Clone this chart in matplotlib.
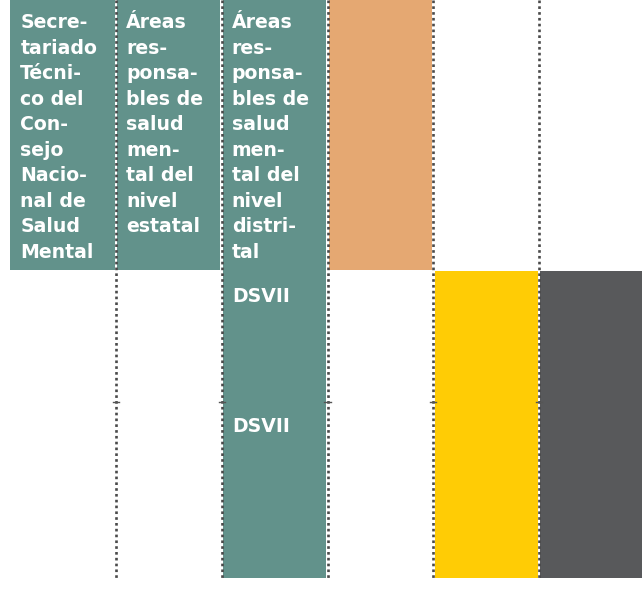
import matplotlib.pyplot as plt

# header texts for the three teal columns, one entry per line
headers = [
    ["Secre-", "tariado", "Técni-", "co del", "Con-", "sejo", "Nacio-", "nal de", "Salud", "Mental"],
    ["Áreas", "res-", "ponsa-", "bles de", "salud", "men-", "tal del", "nivel", "estatal"],
    ["Áreas", "res-", "ponsa-", "bles de", "salud", "men-", "tal del", "nivel", "distri-", "tal"],
]
# filled blocks: (column, top, bottom, colour)
blocks = [
    (0, 0, 270, "#62928b"),
    (1, 0, 270, "#62928b"),
    (2, 0, 578, "#62928b"),
    (3, 0, 270, "#e5a872"),
    (4, 271, 578, "#ffcc05"),
    (5, 271, 578, "#58595b"),
]
row_labels = ["DSVII", "DSVII"]
row_label_y = [296, 426]
divider_cols = [1, 2, 3, 4, 5]

fig = plt.figure(figsize=(6.42, 5.92), dpi=100)
ax = fig.add_axes([0, 0, 1, 1])
ax.set_xlim(-10.25 / 105.75, (642 - 10.25) / 105.75)
ax.set_ylim(592, 0)
ax.axis("off")

for col, top, bot, color in blocks:
    left = col + 0.012 if col else col - 0.005
    ax.bar(left, bot - top, bottom=top, width=col + 0.988 - left, align="edge",
           color=color, linewidth=0, zorder=1)

for c in divider_cols:
    ax.plot([c, c], [0, 578], color="#4a4a4a", linestyle=(0, (1, 1.2)),
            linewidth=1.9, zorder=3)
    ax.plot([c - 0.03, c + 0.03], [402, 402], color="#555555", linewidth=1.0, zorder=3)

for col, lines in enumerate(headers):
    for i, line in enumerate(lines):
        ax.text(col + 0.095, 23 + 25.45 * i, line, color="white", fontsize=13.6,
                fontweight="bold", family="DejaVu Sans", va="center", ha="left",
                zorder=4)

for label, y in zip(row_labels, row_label_y):
    ax.text(2.095, y, label, color="white", fontsize=13.6, fontweight="bold",
            family="DejaVu Sans", va="center", ha="left", zorder=4)

fig.savefig("out.png", dpi=100)
